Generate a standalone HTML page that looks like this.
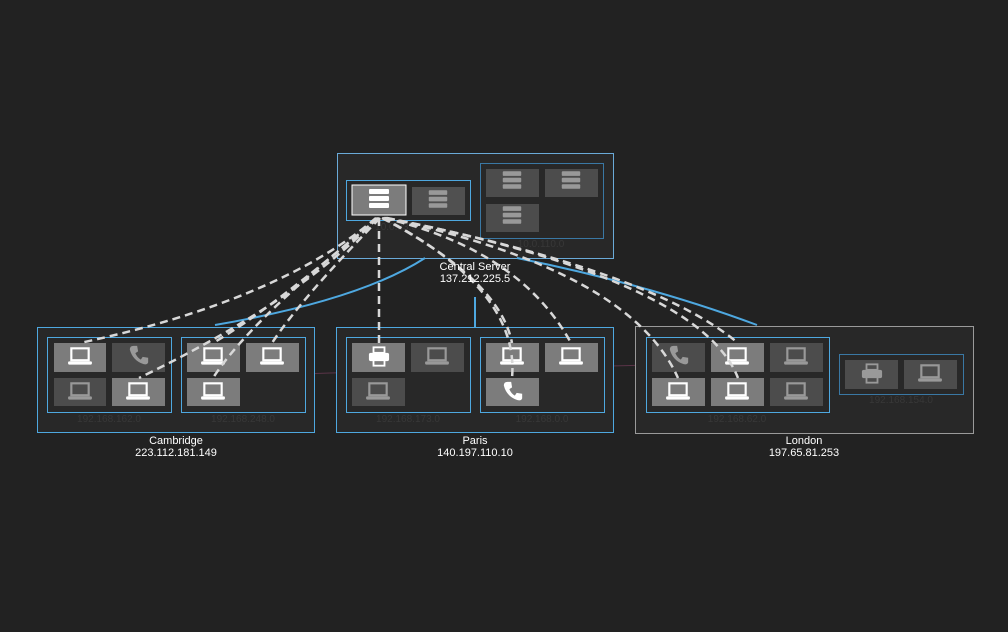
<!DOCTYPE html>
<html><head><style>
html,body{margin:0;padding:0;background:#222;}
svg{display:block;font-family:"Liberation Sans",sans-serif;}
</style></head><body>
<svg width="1008" height="632" viewBox="0 0 1008 632" xmlns="http://www.w3.org/2000/svg">
<defs>
<symbol id="lap" viewBox="0 0 24 18"><rect x="4" y="1" width="16" height="11" fill="none" stroke="currentColor" stroke-width="2"/><rect x="1" y="13" width="22" height="3" rx="1" fill="currentColor"/></symbol>
<symbol id="ph" viewBox="0 0 24 24"><path d="M6 2 L10 2 L11 8 L8 10 Q10 15 14 17 L16 14 L22 15 L22 20 Q21 23 17 22 Q5 18 2 6 Q2 2 6 2Z" fill="currentColor"/></symbol>
<symbol id="pr" viewBox="0 0 24 22"><rect x="6" y="1" width="12" height="6" fill="none" stroke="currentColor" stroke-width="2"/><rect x="1" y="7" width="22" height="9" rx="2" fill="currentColor"/><rect x="6" y="13" width="12" height="8" fill="none" stroke="currentColor" stroke-width="2"/></symbol>
<symbol id="sv" viewBox="0 0 26 20"><rect x="3" y="0" width="20" height="5" rx="1" fill="currentColor"/><rect x="3" y="7" width="20" height="5" rx="1" fill="currentColor"/><rect x="3" y="14" width="20" height="5" rx="1" fill="currentColor"/></symbol>
</defs>
<rect width="1008" height="632" fill="#222"/>

<path d="M100 381 L330 373 L650 365" stroke="#5a3448" stroke-width="1" fill="none"/>

<!-- Central -->
<rect x="337.5" y="153.5" width="276" height="105" fill="#282828" stroke="#6aaad8"/>
<rect x="346.5" y="180.5" width="124" height="40" fill="none" stroke="#4ea8e0"/>
<rect x="352" y="185" width="54" height="30" fill="#7c7c7c" stroke="#fff"/>
<use href="#sv" x="366" y="189" width="26" height="20" color="#fff"/>
<rect x="412" y="187" width="53" height="28" fill="#505050"/>
<use href="#sv" x="426" y="190" width="24" height="19" color="#999"/>
<text x="396" y="230" font-size="10" fill="#383838" text-anchor="middle">10.0.83.0</text>
<rect x="480.5" y="163.5" width="123" height="75" fill="none" stroke="#3a78a4"/>
<rect x="486" y="169" width="53" height="28" fill="#4c4c4c"/><use href="#sv" x="500" y="171" width="24" height="19" color="#999"/>
<rect x="545" y="169" width="53" height="28" fill="#4c4c4c"/><use href="#sv" x="559" y="171" width="24" height="19" color="#999"/>
<rect x="486" y="204" width="53" height="28" fill="#4c4c4c"/><use href="#sv" x="500" y="206" width="24" height="19" color="#999"/>
<text x="541" y="247" font-size="10" fill="#383838" text-anchor="middle">10.0.110.0</text>

<!-- Cambridge -->
<rect x="37.5" y="327.5" width="277" height="105" fill="#282828" stroke="#4ea8e0"/>
<rect x="47.5" y="337.5" width="124" height="75" fill="none" stroke="#4ea8e0"/>
<rect x="181.5" y="337.5" width="124" height="75" fill="none" stroke="#4ea8e0"/>
<rect x="54" y="343" width="52" height="29" fill="#7c7c7c"/><use href="#lap" x="67" y="347" width="26" height="20" color="#fff"/>
<rect x="112" y="343" width="53" height="29" fill="#4c4c4c"/><use href="#ph" x="128" y="344" width="22" height="22" color="#999"/>
<rect x="54" y="378" width="52" height="28" fill="#4c4c4c"/><use href="#lap" x="67" y="382" width="26" height="20" color="#999"/>
<rect x="112" y="378" width="53" height="28" fill="#7c7c7c"/><use href="#lap" x="125" y="382" width="26" height="20" color="#fff"/>
<rect x="187" y="343" width="53" height="29" fill="#7c7c7c"/><use href="#lap" x="200" y="347" width="26" height="20" color="#fff"/>
<rect x="246" y="343" width="53" height="29" fill="#7c7c7c"/><use href="#lap" x="259" y="347" width="26" height="20" color="#fff"/>
<rect x="187" y="378" width="53" height="28" fill="#7c7c7c"/><use href="#lap" x="200" y="382" width="26" height="20" color="#fff"/>
<text x="109" y="422" font-size="10" fill="#383838" text-anchor="middle">192.168.162.0</text>
<text x="243" y="422" font-size="10" fill="#383838" text-anchor="middle">192.168.248.0</text>
<text x="176" y="444" font-size="11" fill="#fff" text-anchor="middle">Cambridge</text>
<text x="176" y="456" font-size="11" fill="#fff" text-anchor="middle">223.112.181.149</text>

<!-- Paris -->
<rect x="336.5" y="327.5" width="277" height="105" fill="#282828" stroke="#4ea8e0"/>
<rect x="346.5" y="337.5" width="124" height="75" fill="none" stroke="#4ea8e0"/>
<rect x="480.5" y="337.5" width="124" height="75" fill="none" stroke="#4ea8e0"/>
<rect x="352" y="343" width="53" height="29" fill="#7c7c7c"/><use href="#pr" x="368" y="346" width="22" height="21" color="#fff"/>
<rect x="411" y="343" width="53" height="29" fill="#4c4c4c"/><use href="#lap" x="424" y="347" width="26" height="20" color="#999"/>
<rect x="352" y="378" width="53" height="28" fill="#4c4c4c"/><use href="#lap" x="365" y="382" width="26" height="20" color="#999"/>
<rect x="486" y="343" width="53" height="29" fill="#7c7c7c"/><use href="#lap" x="499" y="347" width="26" height="20" color="#fff"/>
<rect x="545" y="343" width="53" height="29" fill="#7c7c7c"/><use href="#lap" x="558" y="347" width="26" height="20" color="#fff"/>
<rect x="486" y="378" width="53" height="28" fill="#7c7c7c"/><use href="#ph" x="502" y="380" width="22" height="22" color="#fff"/>
<text x="408" y="422" font-size="10" fill="#383838" text-anchor="middle">192.168.173.0</text>
<text x="542" y="422" font-size="10" fill="#383838" text-anchor="middle">192.168.0.0</text>
<text x="475" y="444" font-size="11" fill="#fff" text-anchor="middle">Paris</text>
<text x="475" y="456" font-size="11" fill="#fff" text-anchor="middle">140.197.110.10</text>

<!-- London -->
<rect x="635.5" y="326.5" width="338" height="107" fill="#282828" stroke="#9a9a9a"/>
<rect x="646.5" y="337.5" width="183" height="75" fill="none" stroke="#4ea8e0"/>
<rect x="839.5" y="354.5" width="124" height="40" fill="none" stroke="#3a78a4"/>
<rect x="652" y="343" width="53" height="29" fill="#4c4c4c"/><use href="#ph" x="668" y="344" width="22" height="22" color="#999"/>
<rect x="711" y="343" width="53" height="29" fill="#7c7c7c"/><use href="#lap" x="724" y="347" width="26" height="20" color="#fff"/>
<rect x="770" y="343" width="53" height="29" fill="#4c4c4c"/><use href="#lap" x="783" y="347" width="26" height="20" color="#999"/>
<rect x="652" y="378" width="53" height="28" fill="#7c7c7c"/><use href="#lap" x="665" y="382" width="26" height="20" color="#fff"/>
<rect x="711" y="378" width="53" height="28" fill="#7c7c7c"/><use href="#lap" x="724" y="382" width="26" height="20" color="#fff"/>
<rect x="770" y="378" width="53" height="28" fill="#4c4c4c"/><use href="#lap" x="783" y="382" width="26" height="20" color="#999"/>
<rect x="845" y="360" width="53" height="29" fill="#4c4c4c"/><use href="#pr" x="861" y="363" width="22" height="21" color="#999"/>
<rect x="904" y="360" width="53" height="29" fill="#4c4c4c"/><use href="#lap" x="917" y="364" width="26" height="20" color="#999"/>
<text x="737" y="422" font-size="10" fill="#383838" text-anchor="middle">192.168.62.0</text>
<text x="901" y="403" font-size="10" fill="#383838" text-anchor="middle">192.168.154.0</text>
<text x="804" y="444" font-size="11" fill="#fff" text-anchor="middle">London</text>
<text x="804" y="456" font-size="11" fill="#fff" text-anchor="middle">197.65.81.253</text>

<g stroke="#4ea8e0" stroke-width="2" fill="none">
<path d="M425 258 Q360 300 215 325"/>
<path d="M517 258 Q650 285 757 325"/>
<path d="M475 297 L475 327"/>
</g>

<g stroke="#d8d8d8" stroke-width="2.5" fill="none" stroke-dasharray="8 5">
<path d="M376 218 Q280 300 80 343"/>
<path d="M377 218 Q300 300 139 378"/>
<path d="M378 218 Q270 310 213 343"/>
<path d="M380 218 Q300 300 272 343"/>
<path d="M379 218 Q250 320 213 378"/>
<path d="M379 218 L379 343"/>
<path d="M382 218 Q500 280 512 343"/>
<path d="M383 218 Q520 290 512 378"/>
<path d="M384 218 Q520 250 571 343"/>
<path d="M386 218 Q650 270 738 343"/>
<path d="M385 218 Q630 270 678 378"/>
<path d="M387 218 Q700 280 738 378"/>
</g>
<text x="475" y="270" font-size="11" fill="#fff" text-anchor="middle">Central Server</text>
<text x="475" y="282" font-size="11" fill="#fff" text-anchor="middle">137.212.225.5</text>
</svg>
</body></html>
